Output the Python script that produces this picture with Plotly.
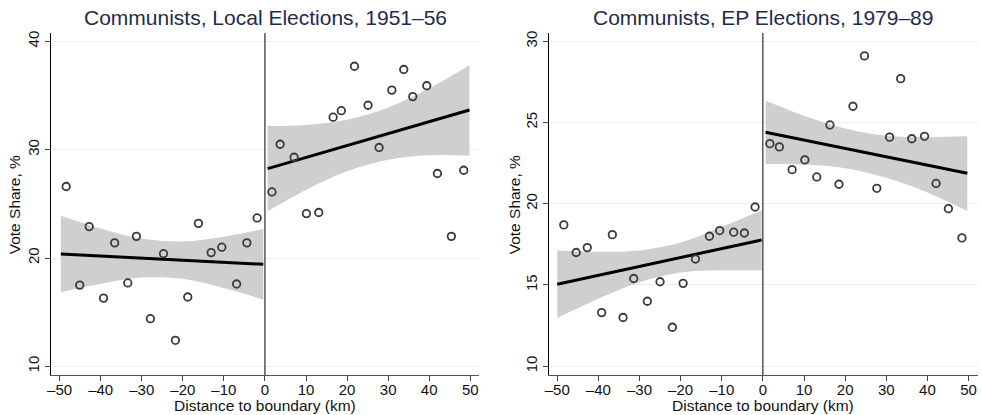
import plotly.graph_objects as go

# ---------------- data ----------------
# Panel 1: Communists, Local Elections, 1951–56
local_x_left = [-48.4, -45.1, -42.8, -39.3, -36.6, -33.4, -31.3, -27.9, -24.7,
                -21.8, -18.8, -16.2, -13.1, -10.5, -6.9, -4.4, -1.9]
local_y_left = [26.6, 17.5, 22.9, 16.3, 21.4, 17.7, 22.0, 14.4, 20.4,
                12.4, 16.4, 23.2, 20.5, 21.0, 17.6, 21.4, 23.7]
local_x_right = [1.7, 3.7, 7.1, 10.1, 13.1, 16.6, 18.6, 21.8, 25.1,
                 27.8, 30.9, 33.8, 36.0, 39.4, 42.0, 45.4, 48.4]
local_y_right = [26.1, 30.5, 29.3, 24.1, 24.2, 33.0, 33.6, 37.7, 34.1,
                 30.2, 35.5, 37.4, 34.9, 35.9, 27.8, 22.0, 28.1]
# fitted lines and 95% CI bands
local_fit_left_x = [-49.7, -40, -30, -20, -10, -0.4]
local_fit_left_y = [20.37, 20.18, 19.99, 19.80, 19.60, 19.42]
local_ci_left_hi = [23.90, 22.73, 21.79, 21.52, 21.97, 22.67]
local_ci_left_lo = [16.84, 17.63, 18.19, 18.08, 17.23, 16.17]
local_fit_right_x = [0.65, 10, 20, 30, 40, 49.8]
local_fit_right_y = [28.25, 29.28, 30.38, 31.48, 32.58, 33.66]
local_ci_right_hi = [32.18, 32.28, 32.76, 33.89, 35.67, 37.80]
local_ci_right_lo = [24.32, 26.28, 28.00, 29.07, 29.49, 29.45]

# Panel 2: Communists, EP Elections, 1979–89
ep_x_left = [-48.4, -45.4, -42.7, -39.2, -36.6, -34.0, -31.4, -28.1, -25.0,
             -22.0, -19.4, -16.4, -13.0, -10.5, -7.1, -4.5, -1.9]
ep_y_left = [18.7, 17.0, 17.3, 13.3, 18.1, 13.0, 15.4, 14.0, 15.2,
             12.4, 15.1, 16.6, 18.0, 18.35, 18.25, 18.2, 19.8]
ep_x_right = [1.7, 4.0, 7.1, 10.2, 13.1, 16.3, 18.5, 21.9, 24.7,
              27.7, 30.8, 33.5, 36.2, 39.3, 42.1, 45.1, 48.4]
ep_y_right = [23.7, 23.5, 22.1, 22.7, 21.65, 24.85, 21.2, 26.0, 29.1,
              20.95, 24.1, 27.7, 24.0, 24.15, 21.25, 19.7, 17.9]
ep_fit_left_x = [-50, -40, -30, -20, -10, -0.3]
ep_fit_left_y = [15.05, 15.60, 16.14, 16.69, 17.24, 17.77]
ep_ci_left_hi = [17.13, 17.05, 17.12, 17.61, 18.58, 19.60]
ep_ci_left_lo = [12.97, 14.15, 15.17, 15.77, 15.90, 15.90]
ep_fit_right_x = [0.65, 10, 20, 30, 40, 49.7]
ep_fit_right_y = [24.40, 23.92, 23.41, 22.89, 22.38, 21.88]
ep_ci_right_hi = [26.36, 25.42, 24.63, 24.18, 24.10, 24.15]
ep_ci_right_lo = [22.44, 22.42, 22.19, 21.60, 20.70, 19.55]

titles = ["Communists, Local Elections, 1951–56", "Communists, EP Elections, 1979–89"]
x_ticks = [-50, -40, -30, -20, -10, 0, 10, 20, 30, 40, 50]
x_tick_labels = ["–50", "–40", "–30", "–20", "–10", "0", "10", "20", "30", "40", "50"]
y1_ticks = [10, 20, 30, 40]
y2_ticks = [10, 15, 20, 25, 30]

# ---------------- styling ----------------
FONT = "Liberation Sans, Arial, sans-serif"
BAND = "#cfcfcf"
MARK = "#3a3a3a"
GRID = "#e8f0f2"
TITLE_C = "#1e2b4e"
TICK_SIZE = 15
LABEL_SIZE = 15.5
TITLE_SIZE = 21

fig = go.Figure()


def add_panel(xa, ya, xl, yl, xr, yr, bands):
    for bx, by, hi, lo in bands:
        fig.add_trace(go.Scatter(x=bx, y=lo, mode="lines",
                                 line=dict(width=0, color=BAND, shape="spline", smoothing=1.0),
                                 hoverinfo="skip", showlegend=False, xaxis=xa, yaxis=ya))
        fig.add_trace(go.Scatter(x=bx, y=hi, mode="lines", fill="tonexty", fillcolor=BAND,
                                 line=dict(width=0, color=BAND, shape="spline", smoothing=1.0),
                                 hoverinfo="skip", showlegend=False, xaxis=xa, yaxis=ya))
    for bx, by, hi, lo in bands:
        fig.add_trace(go.Scatter(x=bx, y=by, mode="lines",
                                 line=dict(color="black", width=3),
                                 showlegend=False, xaxis=xa, yaxis=ya))
    fig.add_trace(go.Scatter(x=xl + xr, y=yl + yr, mode="markers",
                             marker=dict(symbol="circle-open", size=7.5, color=MARK,
                                         line=dict(width=1.8, color=MARK)),
                             showlegend=False, xaxis=xa, yaxis=ya))


add_panel("x", "y", local_x_left, local_y_left, local_x_right, local_y_right,
          [(local_fit_left_x, local_fit_left_y, local_ci_left_hi, local_ci_left_lo),
           (local_fit_right_x, local_fit_right_y, local_ci_right_hi, local_ci_right_lo)])
add_panel("x2", "y2", ep_x_left, ep_y_left, ep_x_right, ep_y_right,
          [(ep_fit_left_x, ep_fit_left_y, ep_ci_left_hi, ep_ci_left_lo),
           (ep_fit_right_x, ep_fit_right_y, ep_ci_right_hi, ep_ci_right_lo)])

W, H = 982, 415
ML, MR, MT, MB = 50.7, 4.3, 33, 40
pw = W - ML - MR
ph = H - MT - MB

xaxis_common = dict(tickvals=x_ticks, ticktext=x_tick_labels,
                    ticks="outside", ticklen=5, tickwidth=1, tickcolor="#444",
                    ticklabelstandoff=-4,
                    showline=True, linecolor="#555", linewidth=1, mirror=False,
                    showgrid=False, zeroline=False,
                    tickfont=dict(family=FONT, size=TICK_SIZE, color="#111"))
yaxis_common = dict(ticks="outside", ticklen=5, tickwidth=1, tickcolor="#444",
                    showline=True, linecolor="black", linewidth=1, mirror=False,
                    showgrid=True, gridcolor=GRID, gridwidth=1.2, zeroline=False,
                    tickangle=-90,
                    tickfont=dict(family=FONT, size=TICK_SIZE, color="#111"))

fig.update_layout(
    width=W, height=H,
    margin=dict(l=ML, r=MR, t=MT, b=MB),
    plot_bgcolor="white", paper_bgcolor="white",
    xaxis=dict(domain=[0, (479 - ML) / pw], anchor="y", range=[-52.1, 52.2], **xaxis_common),
    xaxis2=dict(domain=[(548.3 - ML) / pw, 1], anchor="y2", range=[-52.1, 52.3], **xaxis_common),
    yaxis=dict(domain=[0, 1], anchor="x", range=[9.2, 40.77], tickvals=y1_ticks, **yaxis_common),
    yaxis2=dict(domain=[0, 1], anchor="x2", range=[9.46, 30.51], tickvals=y2_ticks, **yaxis_common),
    shapes=[
        dict(type="line", xref="x", yref="y domain", x0=0, x1=0, y0=0, y1=1,
             line=dict(color="black", width=1)),
        dict(type="line", xref="x2", yref="y2 domain", x0=0, x1=0, y0=0, y1=1,
             line=dict(color="black", width=1)),
    ],
)


def px_x(p):
    return (p - ML) / pw


def px_y(p):
    return (H - MB - p) / ph


ann = []
for cx, t in zip([265, 763], titles):
    ann.append(dict(text=t, x=px_x(cx), y=px_y(17), xref="paper", yref="paper",
                    xanchor="center", yanchor="middle", showarrow=False,
                    font=dict(family=FONT, size=TITLE_SIZE, color=TITLE_C)))
for cx in [265, 763]:
    ann.append(dict(text="Distance to boundary (km)", x=px_x(cx), y=px_y(405.5),
                    xref="paper", yref="paper", xanchor="center", yanchor="middle",
                    showarrow=False, font=dict(family=FONT, size=LABEL_SIZE, color="#111")))
for cx in [14, 514]:
    ann.append(dict(text="Vote Share, %", x=px_x(cx), y=px_y(205), textangle=-90,
                    xref="paper", yref="paper", xanchor="center", yanchor="middle",
                    showarrow=False, font=dict(family=FONT, size=LABEL_SIZE, color="#111")))
fig.update_layout(annotations=ann)

fig.write_html("out.html", config={"displayModeBar": False},
               post_script="document.body.style.margin='0';document.body.style.overflow='hidden';")
